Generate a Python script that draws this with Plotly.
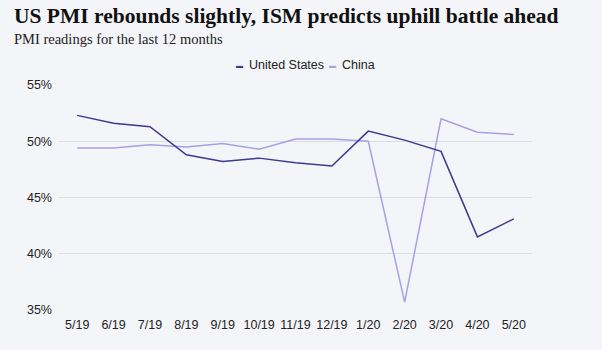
import plotly.graph_objects as go

months = ["5/19", "6/19", "7/19", "8/19", "9/19", "10/19", "11/19", "12/19",
          "1/20", "2/20", "3/20", "4/20", "5/20"]
us_pmi = [52.3, 51.6, 51.3, 48.8, 48.2, 48.5, 48.1, 47.8, 50.9, 50.1, 49.1, 41.5, 43.1]
china_pmi = [49.4, 49.4, 49.7, 49.5, 49.8, 49.3, 50.2, 50.2, 50.0, 35.7, 52.0, 50.8, 50.6]
y_ticks = [35, 40, 45, 50, 55]
y_tick_labels = ["35%", "40%", "45%", "50%", "55%"]

US_COLOR = "#3b3990"
CN_COLOR = "#a5a2e4"
BG = "#f4f5f8"

W, H = 602, 350
ml, mr, mt, mb = 59, 70, 85, 40
pw, ph = W - ml - mr, H - mt - mb


def px(x):
    return (x - ml) / pw


def py(y):
    return (H - mb - y) / ph


fig = go.Figure()
fig.add_trace(go.Scatter(x=months, y=china_pmi, mode="lines", name="China",
                         line=dict(color=CN_COLOR, width=1.5)))
fig.add_trace(go.Scatter(x=months, y=us_pmi, mode="lines", name="United States",
                         line=dict(color=US_COLOR, width=1.5)))

serif = "Liberation Serif, Georgia, serif"
legend_font = dict(size=12.5, color="#222")

fig.update_layout(
    width=W, height=H,
    paper_bgcolor=BG, plot_bgcolor=BG,
    margin=dict(l=ml, r=mr, t=mt, b=mb),
    showlegend=False,
    font=dict(family="Liberation Sans, Arial, sans-serif", size=13, color="#222"),
    xaxis=dict(type="category", range=[-0.5, 12.5], showgrid=False, zeroline=False,
               showline=False, ticks="", ticklabelstandoff=5,
               tickfont=dict(size=12.5, color="#222")),
    yaxis=dict(range=[35, 55], tickvals=y_ticks, ticktext=y_tick_labels,
               showgrid=True, gridcolor="#dcdce2", gridwidth=1, zeroline=False,
               showline=False, ticks="", ticklabelstandoff=6,
               tickfont=dict(size=12.5, color="#222")),
    annotations=[
        dict(text="<b>US PMI rebounds slightly, ISM predicts uphill battle ahead</b>",
             x=px(12), y=py(2), xref="paper", yref="paper", xanchor="left", yanchor="top",
             showarrow=False, font=dict(family=serif, size=21.5, color="#111")),
        dict(text="PMI readings for the last 12 months",
             x=px(12), y=py(29), xref="paper", yref="paper", xanchor="left", yanchor="top",
             showarrow=False, font=dict(family=serif, size=14.5, color="#222")),
        dict(text="▬", x=px(239), y=py(65), xref="paper", yref="paper",
             xanchor="center", yanchor="middle", showarrow=False,
             font=dict(color=US_COLOR, size=7)),
        dict(text="United States", x=px(247), y=py(65), xref="paper", yref="paper",
             xanchor="left", yanchor="middle", showarrow=False, font=legend_font),
        dict(text="▬", x=px(332), y=py(65), xref="paper", yref="paper",
             xanchor="center", yanchor="middle", showarrow=False,
             font=dict(color=CN_COLOR, size=7)),
        dict(text="China", x=px(340), y=py(65), xref="paper", yref="paper",
             xanchor="left", yanchor="middle", showarrow=False, font=legend_font),
    ],
)

fig.write_html("out.html")
